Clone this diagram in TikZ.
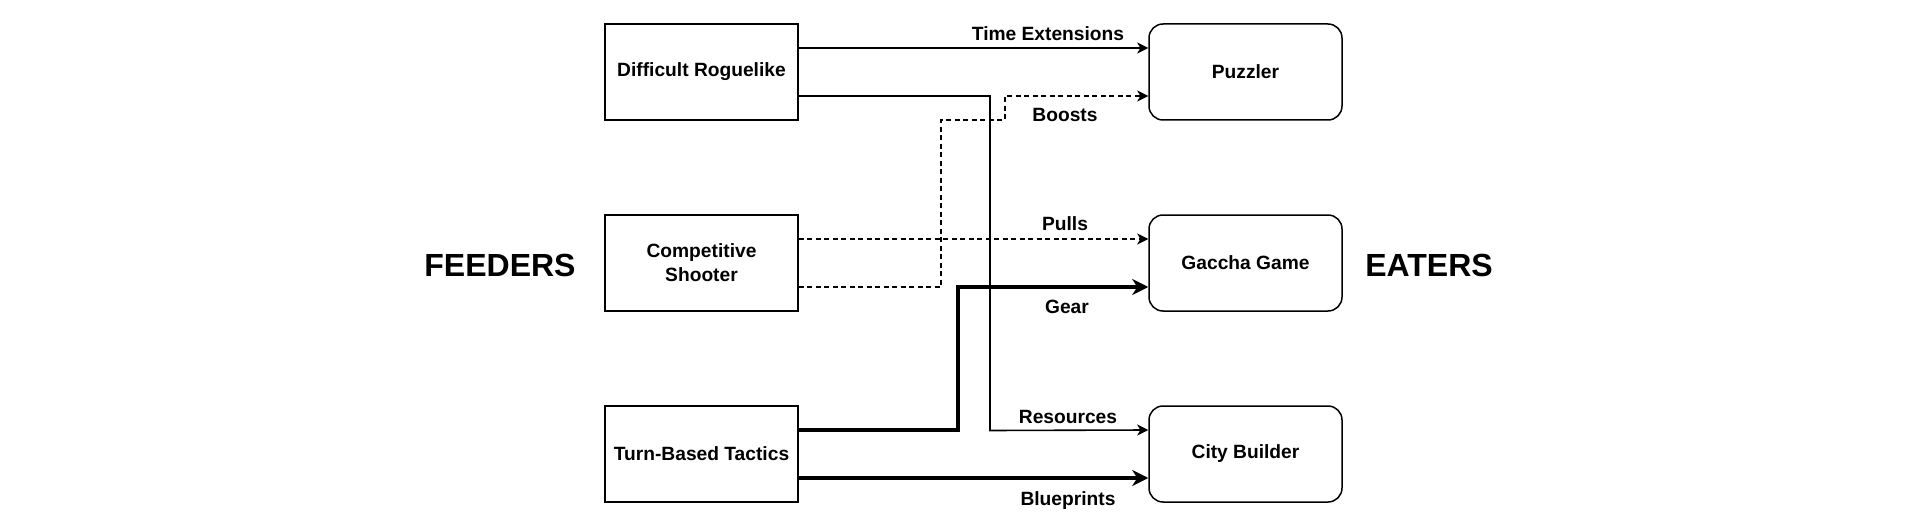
\documentclass[tikz,border=0pt]{standalone}
\usepackage{fontspec}
\setmainfont{Liberation Sans}
\usetikzlibrary{arrows.meta}
\begin{document}
\begin{tikzpicture}[x=1pt,y=-1pt,
  box/.style={draw,line width=1.5pt,minimum width=193pt,minimum height=96pt,inner sep=2pt,align=center,font=\bfseries\fontsize{19.2}{24}\selectfont},
  rbox/.style={box,rounded corners=14pt},
  lbl/.style={font=\bfseries\fontsize{19.2}{23}\selectfont,inner sep=1pt},
  big/.style={font=\bfseries\fontsize{32}{38}\selectfont},
  conn/.style={line width=1.6pt,-{Stealth[length=11pt,width=11pt,inset=3pt]}},
  thickconn/.style={line width=3.2pt,-{Stealth[length=16pt,width=16pt,inset=5pt]}},
  dsh/.style={dash pattern=on 5pt off 3.5pt}]
\useasboundingbox (0,0) rectangle (1920,532);
\node[box] (dr) at (701.5,72) {Difficult Roguelike};
\node[box] (cs) at (701.5,263) {Competitive\\Shooter};
\node[box] (tb) at (701.5,454) {Turn-Based Tactics};
\node[rbox] (pz) at (1245.5,72) {Puzzler};
\node[rbox] (gg) at (1245.5,263) {Gaccha Game};
\node[rbox] (cb) at (1245.5,454) {City Builder};
\node[big] (fd) at (500,265) {FEEDERS};
\node[big] (et) at (1429,265) {EATERS};
\draw[conn] ([yshift=24pt]dr.east) -- ([yshift=24pt]pz.west);
\draw[conn] ([yshift=-24pt]dr.east) -| (990,430.5) -- ([yshift=24pt]cb.west);
\draw[conn,dsh] ([yshift=-24pt]cs.east) -| (941,120) -| (1005,96) -- ([yshift=-24pt]pz.west);
\draw[conn,dsh] ([yshift=24pt]cs.east) -- ([yshift=24pt]gg.west);
\draw[thickconn] ([yshift=24pt]tb.east) -| (958,287) -- ([yshift=-24pt]gg.west);
\draw[thickconn] ([yshift=-24pt]tb.east) -- ([yshift=-24pt]cb.west);
\node[lbl] (l1) at (1048,33.5) {Time Extensions};
\node[lbl] (l2) at (1065,114.5) {Boosts};
\node[lbl] (l3) at (1065,224) {Pulls};
\node[lbl] (l4) at (1067,306.5) {Gear};
\node[lbl] (l5) at (1068,416.5) {Resources};
\node[lbl] (l6) at (1068,501) {Blueprints};
\end{tikzpicture}
\end{document}
